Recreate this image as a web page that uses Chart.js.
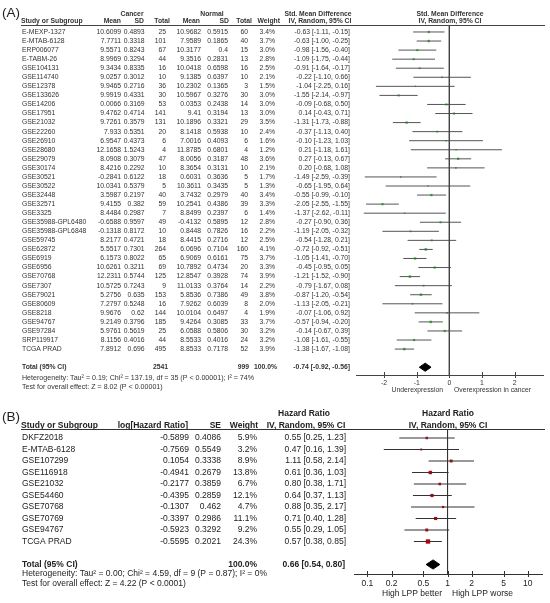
<!DOCTYPE html>
<html><head><meta charset="utf-8">
<script src="https://cdn.jsdelivr.net/npm/chart.js@4.4.0/dist/chart.umd.min.js"></script>
<style>
html,body{margin:0;padding:0;background:#fff;}
#wrap{position:relative;width:550px;height:603px;overflow:hidden;}
canvas{position:absolute;left:0;}
#ca{top:0}
#cb{top:400px}
</style></head><body>
<div id="wrap"><canvas id="ca" width="550" height="400"></canvas><canvas id="cb" width="550" height="203"></canvas></div>
<script>
// ---------- Panel A data ----------
const studiesA = ["E-MEXP-1327","E-MTAB-6128","ERP006077","E-TABM-26","GSE104131","GSE114740","GSE12378","GSE133626","GSE14206","GSE17951","GSE21032","GSE22260","GSE26910","GSE28680","GSE29079","GSE30174","GSE30521","GSE30522","GSE32448","GSE32571","GSE3325","GSE35988-GPL6480","GSE35988-GPL6848","GSE59745","GSE62872","GSE6919","GSE6956","GSE70768","GSE7307","GSE79021","GSE80609","GSE8218","GSE94767","GSE97284","SRP119917","TCGA PRAD"];
const cancerMean = [10.6099,7.7711,9.5571,8.9969,9.3434,9.0257,9.9465,9.9919,0.0066,9.4762,9.7261,7.933,6.9547,12.1658,8.0908,8.4216,-0.2841,10.0341,3.5987,9.4155,8.4484,-0.6588,-0.1318,8.2177,5.5517,6.1573,10.6261,12.2311,10.5725,5.2756,7.2797,9.9676,9.2149,5.9761,8.1156,7.8912];
const cancerSD = [0.4893,0.3318,0.8243,0.3294,0.8335,0.3012,0.2716,0.4331,0.3169,0.4714,0.3579,0.5351,0.4373,1.5243,0.3079,0.2292,0.6122,0.5379,0.2197,0.382,0.2987,0.9597,0.8172,0.4721,0.7301,0.8022,0.3211,0.5744,0.7243,0.635,0.5248,0.62,0.3796,0.5619,0.4016,0.696];
const cancerTotal = [25,101,67,44,16,10,36,30,53,141,131,20,6,4,47,10,18,5,40,59,7,49,10,18,264,65,69,125,9,153,16,144,185,25,44,495];
const normalMean = [10.9682,7.9589,10.3177,9.3516,10.0418,9.1385,10.2302,10.5967,0.0353,9.41,10.1896,8.1418,7.0016,11.8785,8.0056,8.3654,0.6031,10.3611,3.7432,10.2541,8.8499,-0.4132,0.8448,8.4415,6.0696,6.9069,10.7892,12.8547,11.0133,5.8536,7.9262,10.0104,9.4264,6.0588,8.5533,8.8533];
const normalSD = [0.5915,0.1865,0.4,0.2831,0.6598,0.6397,0.1365,0.3276,0.2438,0.3194,0.3321,0.5938,0.4093,0.6801,0.3187,0.3131,0.3636,0.3435,0.2979,0.4386,0.2397,0.5895,0.7826,0.2716,0.7104,0.6161,0.4734,0.3928,0.3764,0.7386,0.6039,0.6497,0.3085,0.5806,0.4016,0.7178];
const normalTotal = [60,40,15,13,16,10,3,30,14,13,29,10,6,4,48,10,5,5,40,39,6,12,16,12,160,75,20,74,14,49,8,4,33,30,24,52];
const weightA = [3.4,3.7,3.0,2.8,2.5,2.1,1.5,3.0,3.0,3.0,3.5,2.4,1.6,1.2,3.6,2.1,1.7,1.3,3.4,3.3,1.4,2.8,2.2,2.5,4.1,3.7,3.3,3.9,2.2,3.8,2.0,1.9,3.7,3.2,3.2,3.9];
const smd = [-0.63,-0.63,-0.98,-1.09,-0.91,-0.22,-1.04,-1.55,-0.09,0.14,-1.31,-0.37,-0.10,0.21,0.27,0.20,-1.49,-0.65,-0.55,-2.05,-1.37,-0.27,-1.19,-0.54,-0.72,-1.05,-0.45,-1.21,-0.79,-0.87,-1.13,-0.07,-0.57,-0.14,-1.08,-1.38];
const smdLow = [-1.11,-1.00,-1.56,-1.75,-1.64,-1.10,-2.25,-2.14,-0.68,-0.43,-1.73,-1.13,-1.23,-1.18,-0.13,-0.68,-2.59,-1.95,-0.99,-2.55,-2.62,-0.90,-2.05,-1.28,-0.92,-1.41,-0.95,-1.52,-1.67,-1.20,-2.05,-1.06,-0.94,-0.67,-1.61,-1.67];
const smdHigh = [-0.15,-0.25,-0.40,-0.44,-0.17,0.66,0.16,-0.97,0.50,0.71,-0.88,0.40,1.03,1.61,0.67,1.08,-0.39,0.64,-0.10,-1.55,-0.11,0.36,-0.32,0.21,-0.51,-0.70,0.05,-0.90,0.08,-0.54,-0.21,0.92,-0.20,0.39,-0.55,-1.08];
const totalA = {cancerN: 2541, normalN: 999, est: -0.74, low: -0.92, high: -0.56};
const ticksA = [-2,-1,0,1,2];

// ---------- Panel B data ----------
const studiesB = ["DKFZ2018","E-MTAB-6128","GSE107299","GSE116918","GSE21032","GSE54460","GSE70768","GSE70769","GSE94767","TCGA PRAD"];
const logHR = [-0.5899,-0.7569,0.1054,-0.4941,-0.2177,-0.4395,-0.1307,-0.3397,-0.5923,-0.5595];
const seB = [0.4086,0.5549,0.3338,0.2679,0.3859,0.2859,0.462,0.2986,0.3292,0.2021];
const weightB = [5.9,3.2,8.9,13.8,6.7,12.1,4.7,11.1,9.2,24.3];
const hr = [0.55,0.47,1.11,0.61,0.80,0.64,0.88,0.71,0.55,0.57];
const hrLow = [0.25,0.16,0.58,0.36,0.38,0.37,0.35,0.40,0.29,0.38];
const hrHigh = [1.23,1.39,2.14,1.03,1.71,1.13,2.17,1.28,1.05,0.85];
const totalB = {est: 0.66, low: 0.54, high: 0.80};
const ticksB = [0.1,0.2,0.5,1,2,5,10];

// ---------- helpers ----------
const FAM = '"Liberation Sans", Arial, Helvetica, sans-serif';
function T(ctx, s, x, y, align, size, bold, color){
  ctx.font = (bold?'bold ':'') + size + 'px ' + FAM;
  ctx.textAlign = align; ctx.textBaseline = 'middle';
  ctx.fillStyle = color; ctx.fillText(s, x, y);
}
function L(ctx, x1, y1, x2, y2, color){
  ctx.beginPath(); ctx.strokeStyle = color; ctx.lineWidth = 1;
  ctx.moveTo(x1, y1); ctx.lineTo(x2, y2); ctx.stroke();
}
const ci = (e,l,h)=> e.toFixed(2)+' ['+l.toFixed(2)+', '+h.toFixed(2)+']';

// ---------- Panel A chart ----------
const yMinA = -0.77, yMaxA = 37.86, totRowA = 37;
const dsA = [];
dsA.push({data:[{x:0,y:yMinA},{x:0,y:yMaxA}], borderColor:'#444', borderWidth:1, pointRadius:0});
studiesA.forEach((s,i)=>dsA.push({data:[{x:smdLow[i],y:i},{x:smdHigh[i],y:i}], borderColor:'#555', borderWidth:1, pointRadius:0}));
dsA.push({data: smd.map((v,i)=>({x:v,y:i})), showLine:false, pointStyle:'rect',
  pointRadius: weightA.map(w=>0.6+w*0.3), pointBackgroundColor:'#3cbf3c', pointBorderWidth:0});
dsA.push({data:[{x:totalA.low,y:totRowA},{x:totalA.est,y:totRowA-0.45},{x:totalA.high,y:totRowA},{x:totalA.est,y:totRowA+0.45},{x:totalA.low,y:totRowA}],
  borderColor:'#000', borderWidth:1, backgroundColor:'#000', fill:'shape', pointRadius:0, tension:0});

const plugA = {id:'tabA', afterDraw(chart){
  const ctx = chart.ctx, ys = chart.scales.y, xs = chart.scales.x;
  ctx.save();
  const C = '#333', F = 6.8;
  T(ctx,'(A)',2,13.5,'left',13.5,false,'#222');
  T(ctx,'Cancer',132,14,'center',F,true,C);
  T(ctx,'Normal',212,14,'center',F,true,C);
  T(ctx,'Std. Mean Difference',318,14,'center',F,true,C);
  T(ctx,'Std. Mean Difference',450,14,'center',F,true,C);
  const hy = 21.5;
  T(ctx,'Study or Subgroup',21,hy,'left',F,true,C);
  T(ctx,'Mean',121,hy,'right',F,true,C);
  T(ctx,'SD',144,hy,'right',F,true,C);
  T(ctx,'Total',170,hy,'right',F,true,C);
  T(ctx,'Mean',200,hy,'right',F,true,C);
  T(ctx,'SD',229,hy,'right',F,true,C);
  T(ctx,'Total',252,hy,'right',F,true,C);
  T(ctx,'Weight',280,hy,'right',F,true,C);
  T(ctx,'IV, Random, 95% CI',320,hy,'center',F,true,C);
  T(ctx,'IV, Random, 95% CI',450,hy,'center',F,true,C);
  L(ctx,21,25.5,545,25.5,'#444');
  studiesA.forEach((s,i)=>{
    const y = ys.getPixelForValue(i);
    T(ctx,s,22,y,'left',F,false,C);
    T(ctx,String(cancerMean[i]),121,y,'right',F,false,C);
    T(ctx,String(cancerSD[i]),144.5,y,'right',F,false,C);
    T(ctx,String(cancerTotal[i]),166,y,'right',F,false,C);
    T(ctx,String(normalMean[i]),201,y,'right',F,false,C);
    T(ctx,String(normalSD[i]),228,y,'right',F,false,C);
    T(ctx,String(normalTotal[i]),248,y,'right',F,false,C);
    T(ctx,weightA[i].toFixed(1)+'%',275,y,'right',F,false,C);
    T(ctx,ci(smd[i],smdLow[i],smdHigh[i]),350,y,'right',F,false,C);
  });
  const ty = ys.getPixelForValue(totRowA);
  T(ctx,'Total (95% CI)',22,ty,'left',F,true,C);
  T(ctx,String(totalA.cancerN),168,ty,'right',F,true,C);
  T(ctx,String(totalA.normalN),249,ty,'right',F,true,C);
  T(ctx,'100.0%',277,ty,'right',F,true,C);
  T(ctx,ci(totalA.est,totalA.low,totalA.high),350,ty,'right',F,true,C);
  T(ctx,'Heterogeneity: Tau\u00B2 = 0.19; Chi\u00B2 = 137.19, df = 35 (P < 0.00001); I\u00B2 = 74%',22,378,'left',7.1,false,C);
  T(ctx,'Test for overall effect: Z = 8.02 (P < 0.00001)',22,387,'left',7.1,false,C);
  const ay = xs.top;
  xs.ticks.forEach(t=>{const px = Math.round(xs.getPixelForValue(t.value))+0.5; L(ctx,px,ay-3,px,ay+3,'#444');});
  T(ctx,'Underexpression',443,390.5,'right',F,false,C);
  T(ctx,'Overexpression in cancer',454,390.5,'left',F,false,C);
  ctx.restore();
}};

new Chart(document.getElementById('ca'), {
  type:'line',
  data:{datasets:dsA},
  options:{
    responsive:false, animation:false, devicePixelRatio:1,
    layout:{padding:{left:356,right:7,top:25,bottom:0}},
    plugins:{legend:{display:false}, tooltip:{enabled:false}},
    scales:{
      x:{type:'linear', min:-2.86, max:2.87,
        afterBuildTicks:s=>{s.ticks = ticksA.map(v=>({value:v}));},
        afterFit:s=>{s.height = 25;},
        grid:{drawOnChartArea:false, drawTicks:false},
        border:{display:true, color:'#444', width:1},
        ticks:{padding:4, font:{size:6.9, family:FAM}, color:'#333', maxRotation:0, autoSkip:false, callback:v=>String(v)}},
      y:{type:'linear', display:false, reverse:true, min:yMinA, max:yMaxA}
    }
  },
  plugins:[plugA]
});

// ---------- Panel B chart ----------
const yMinB = -0.783, yMaxB = 11.826, totRowB = 11;
const dsB = [];
dsB.push({data:[{x:1,y:yMinB},{x:1,y:yMaxB}], borderColor:'#333', borderWidth:1, pointRadius:0});
studiesB.forEach((s,i)=>dsB.push({data:[{x:hrLow[i],y:i},{x:hrHigh[i],y:i}], borderColor:'#333', borderWidth:1, pointRadius:0}));
dsB.push({data: hr.map((v,i)=>({x:v,y:i})), showLine:false, pointStyle:'rect',
  pointRadius: weightB.map(w=>0.4+Math.sqrt(w)*0.55), pointBackgroundColor:'#c8000a', pointBorderWidth:0});
dsB.push({data:[{x:totalB.low,y:totRowB},{x:totalB.est,y:totRowB-0.4},{x:totalB.high,y:totRowB},{x:totalB.est,y:totRowB+0.4},{x:totalB.low,y:totRowB}],
  borderColor:'#000', borderWidth:1, backgroundColor:'#000', fill:'shape', pointRadius:0, tension:0});

const plugB = {id:'tabB', afterDraw(chart){
  const ctx = chart.ctx, ys = chart.scales.y, xs = chart.scales.x;
  ctx.save();
  const C = '#222', F = 8.5;
  T(ctx,'(B)',2,17,'left',13.5,false,'#222');
  T(ctx,'Hazard Ratio',304,14,'center',F,true,C);
  T(ctx,'Hazard Ratio',448,14,'center',F,true,C);
  const hy = 25.5;
  T(ctx,'Study or Subgroup',21,hy,'left',F,true,C);
  T(ctx,'log[Hazard Ratio]',188,hy,'right',F,true,C);
  T(ctx,'SE',221,hy,'right',F,true,C);
  T(ctx,'Weight',258,hy,'right',F,true,C);
  T(ctx,'IV, Random, 95% CI',306,hy,'center',F,true,C);
  T(ctx,'IV, Random, 95% CI',448,hy,'center',F,true,C);
  L(ctx,21,29.5,545,29.5,'#333');
  studiesB.forEach((s,i)=>{
    const y = ys.getPixelForValue(i);
    T(ctx,s,22,y,'left',F,false,C);
    T(ctx,String(logHR[i]),189,y,'right',F,false,C);
    T(ctx,String(seB[i]),221,y,'right',F,false,C);
    T(ctx,weightB[i].toFixed(1)+'%',257,y,'right',F,false,C);
    T(ctx,ci(hr[i],hrLow[i],hrHigh[i]),346,y,'right',F,false,C);
  });
  const ty = ys.getPixelForValue(totRowB);
  T(ctx,'Total (95% CI)',22,ty,'left',F,true,C);
  T(ctx,'100.0%',257,ty,'right',F,true,C);
  T(ctx,ci(totalB.est,totalB.low,totalB.high),345,ty,'right',F,true,C);
  T(ctx,'Heterogeneity: Tau\u00B2 = 0.00; Chi\u00B2 = 4.59, df = 9 (P = 0.87); I\u00B2 = 0%',22,174,'left',F,false,C);
  T(ctx,'Test for overall effect: Z = 4.22 (P < 0.0001)',22,184,'left',F,false,C);
  const ay = xs.top;
  xs.ticks.forEach(t=>{const px = Math.round(xs.getPixelForValue(t.value))+0.5; L(ctx,px,ay-3,px,ay+3,'#333');});
  T(ctx,'High LPP better',442,194,'right',F,false,C);
  T(ctx,'High LPP worse',452,194,'left',F,false,C);
  ctx.restore();
}};

new Chart(document.getElementById('cb'), {
  type:'line',
  data:{datasets:dsB},
  options:{
    responsive:false, animation:false, devicePixelRatio:1,
    layout:{padding:{left:354,right:8,top:29,bottom:0}},
    plugins:{legend:{display:false}, tooltip:{enabled:false}},
    scales:{
      x:{type:'logarithmic', min:0.068, max:15.1,
        afterBuildTicks:s=>{s.ticks = ticksB.map(v=>({value:v}));},
        afterFit:s=>{s.height = 29;},
        grid:{drawOnChartArea:false, drawTicks:false},
        border:{display:true, color:'#333', width:1},
        ticks:{padding:5, font:{size:8.5, family:FAM}, color:'#222', maxRotation:0, autoSkip:false, callback:v=>String(v)}},
      y:{type:'linear', display:false, reverse:true, min:yMinB, max:yMaxB}
    }
  },
  plugins:[plugB]
});
</script>
</body></html>
